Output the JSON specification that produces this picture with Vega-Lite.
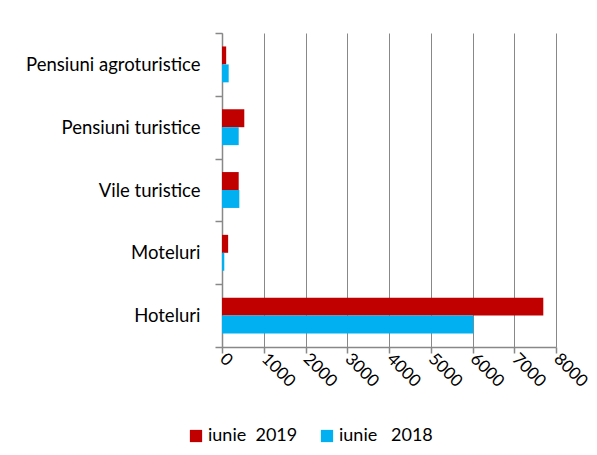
{
  "$schema": "https://vega.github.io/schema/vega-lite/v6.json",
  "autosize": "none",
  "width": 334,
  "height": 314,
  "padding": {"left": 222, "top": 33, "right": 41, "bottom": 108},
  "background": "white",
  "data": {
    "values": [
      {"cat": "Pensiuni agroturistice", "series": "iunie\u00a0 2019", "value": 100},
      {"cat": "Pensiuni agroturistice", "series": "iunie\u00a0\u00a0 2018", "value": 160},
      {"cat": "Pensiuni turistice", "series": "iunie\u00a0 2019", "value": 534},
      {"cat": "Pensiuni turistice", "series": "iunie\u00a0\u00a0 2018", "value": 400},
      {"cat": "Vile turistice", "series": "iunie\u00a0 2019", "value": 400},
      {"cat": "Vile turistice", "series": "iunie\u00a0\u00a0 2018", "value": 415},
      {"cat": "Moteluri", "series": "iunie\u00a0 2019", "value": 147},
      {"cat": "Moteluri", "series": "iunie\u00a0\u00a0 2018", "value": 55},
      {"cat": "Hoteluri", "series": "iunie\u00a0 2019", "value": 7696},
      {"cat": "Hoteluri", "series": "iunie\u00a0\u00a0 2018", "value": 6020}
    ]
  },
  "mark": {"type": "bar"},
  "encoding": {
    "y": {
      "field": "cat",
      "type": "nominal",
      "sort": ["Pensiuni agroturistice", "Pensiuni turistice", "Vile turistice", "Moteluri", "Hoteluri"],
      "scale": {"paddingInner": 0, "paddingOuter": 0},
      "axis": {
        "title": null,
        "ticks": true,
        "tickBand": "extent",
        "tickOpacity": 1,
        "tickWidth": 1.5,
        "grid": false,
        "domainColor": "#888888",
        "domainWidth": 1.5,
        "tickColor": "#888888",
        "tickSize": 7,
        "labelFont": "Lato",
        "labelFontSize": 18.5,
        "labelColor": "#000000",
        "labelPadding": 15,
        "labelLimit": 300
      }
    },
    "yOffset": {
      "field": "series",
      "type": "nominal",
      "sort": ["iunie\u00a0 2019", "iunie\u00a0\u00a0 2018"],
      "scale": {"paddingInner": 0, "paddingOuter": 0.75}
    },
    "x": {
      "field": "value",
      "type": "quantitative",
      "scale": {"domain": [0, 8000], "nice": false},
      "axis": {
        "title": null,
        "values": [0, 1000, 2000, 3000, 4000, 5000, 6000, 7000, 8000],
        "format": "d",
        "grid": true,
        "gridColor": "#888888",
        "gridWidth": 1,
        "domainColor": "#888888",
        "domainWidth": 1.5,
        "tickColor": "#888888",
        "tickWidth": 1.5,
        "tickSize": 6,
        "labelAngle": 45,
        "labelAlign": "left",
        "labelBaseline": "middle",
        "labelFont": "Lato",
        "labelFontSize": 17,
        "labelColor": "#000000",
        "labelPadding": 3
      }
    },
    "color": {
      "field": "series",
      "type": "nominal",
      "sort": ["iunie\u00a0 2019", "iunie\u00a0\u00a0 2018"],
      "scale": {"range": ["#C00000", "#00B0F0"]},
      "legend": {
        "title": null,
        "orient": "none",
        "direction": "horizontal",
        "legendX": -35,
        "legendY": 394,
        "symbolType": "square",
        "symbolSize": 150,
        "symbolStrokeWidth": 0,
        "labelFont": "Lato",
        "labelFontSize": 18,
        "labelColor": "#000000",
        "labelOffset": 3,
        "columnPadding": 20
      }
    }
  },
  "config": {"view": {"stroke": null}}
}
